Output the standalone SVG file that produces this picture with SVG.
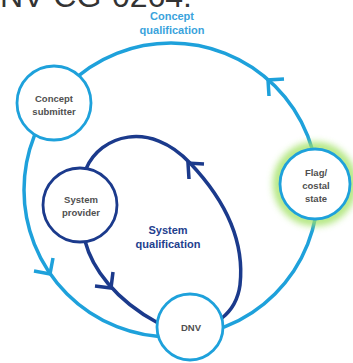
<svg xmlns="http://www.w3.org/2000/svg" width="353" height="363" viewBox="0 0 353 363">
  <defs>
    <filter id="glow" x="-50%" y="-50%" width="200%" height="200%">
      <feGaussianBlur stdDeviation="3.5"/>
    </filter>
    <style>
      .cyan { fill: none; stroke: #1ea1db; stroke-width: 3.5; }
      .navy { fill: none; stroke: #1b3a8c; stroke-width: 3.5; }
      .chev-c { fill: none; stroke: #1ea1db; stroke-width: 3.5; stroke-linecap: butt; stroke-linejoin: miter; }
      .chev-n { fill: none; stroke: #1b3a8c; stroke-width: 3.5; stroke-linecap: butt; stroke-linejoin: miter; }
      .node-c { fill: #ffffff; stroke: #1ea1db; stroke-width: 2.8; }
      .node-n { fill: #ffffff; stroke: #1b3a8c; stroke-width: 2.8; }
      .nt { font-family: "Liberation Sans", Arial, sans-serif; font-size: 9.5px; font-weight: bold; fill: #505050; text-anchor: middle; }
      .lbl { font-family: "Liberation Sans", Arial, sans-serif; font-size: 11px; font-weight: bold; text-anchor: middle; }
    </style>
  </defs>
  <rect x="0" y="0" width="353" height="363" fill="#ffffff"/>

  <text x="192" y="7" font-family="Liberation Sans, Arial, sans-serif" font-size="32" fill="#333333" text-anchor="end">NV-CG-0264:</text>

  <text class="lbl" x="172" y="20" fill="#3aa3dc">Concept</text>
  <text class="lbl" x="172" y="34" fill="#3aa3dc">qualification</text>
  <text class="lbl" x="168" y="234" fill="#23408e">System</text>
  <text class="lbl" x="168" y="248" fill="#23408e">qualification</text>

  <g id="connectors">
    <circle class="cyan" cx="171" cy="190" r="147"/>
    <polyline class="chev-c" points="269,96 268,80 284,79"/>
    <polyline class="chev-c" points="53,258 50,274 34,271"/>
    <path class="navy" d="M 86 169 C 100 135, 150 120, 190 163 C 225 200, 245 240, 240 285 C 238 300, 232 310, 222 318"/>
    <path class="navy" d="M 85 241 C 92 268, 115 300, 158 323"/>
    <polyline class="chev-n" points="204,164 188,163 189,179"/>
    <polyline class="chev-n" points="113,272 111,288 95,286"/>
  </g>

  <g id="concept-submitter">
    <circle class="node-c" cx="54" cy="103" r="37"/>
    <text class="nt" x="54" y="101.5">Concept</text>
    <text class="nt" x="54" y="115">submitter</text>
  </g>

  <g id="system-provider">
    <circle class="node-n" cx="80" cy="205" r="37"/>
    <text class="nt" x="81" y="203">System</text>
    <text class="nt" x="81" y="216">provider</text>
  </g>

  <g id="flag-costal-state">
    <circle cx="315" cy="184" r="37" fill="none" stroke="#a2e265" stroke-width="10" filter="url(#glow)" opacity="0.85"/>
    <circle class="node-c" cx="315" cy="184" r="35"/>
    <text class="nt" x="316" y="176">Flag/</text>
    <text class="nt" x="316" y="189">costal</text>
    <text class="nt" x="316" y="202">state</text>
  </g>

  <g id="dnv">
    <circle class="node-c" cx="190" cy="327" r="33"/>
    <text class="nt" x="191" y="331">DNV</text>
  </g>
</svg>
